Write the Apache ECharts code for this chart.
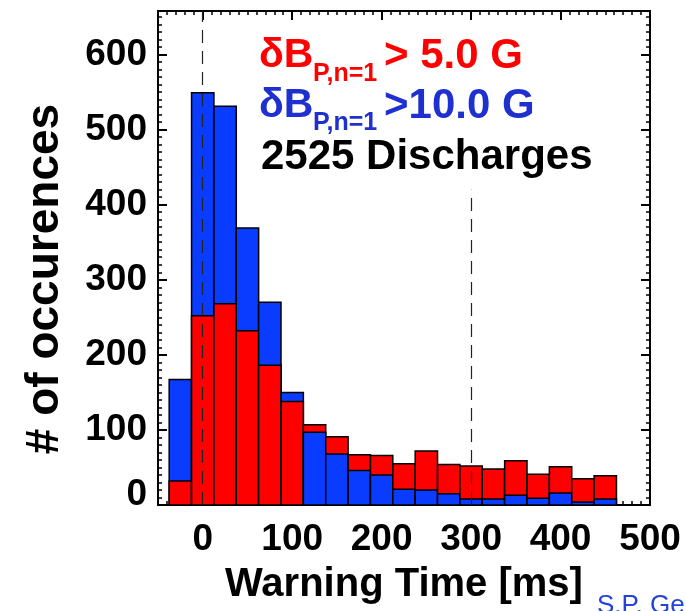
<!DOCTYPE html>
<html>
<head>
<meta charset="utf-8">
<script src="https://cdn.jsdelivr.net/npm/echarts@6/dist/echarts.min.js"></script>
<style>
  html, body { margin: 0; padding: 0; background: #fff; }
  #chart { width: 686px; height: 611px; }
</style>
</head>
<body>
<div id="chart"></div>
<script>
// ---- data ----
const BIN_CENTERS = [-25, 0, 25, 50, 75, 100, 125, 150, 175, 200, 225, 250, 275, 300, 325, 350, 375, 400, 425, 450];
const BIN_WIDTH = 25;
const RED_COUNTS  = [32, 252, 268, 232, 186, 138, 107, 91, 67, 66, 55, 72, 54, 52, 48, 59, 41, 51, 35, 39];   // dB > 5.0 G
const BLUE_COUNTS = [167, 549, 531, 369, 270, 150, 97, 68, 46, 40, 21, 20, 15, 8, 8, 13, 9, 16, 4, 8];        // dB > 10.0 G
const X_TICK_LABELS = [0, 100, 200, 300, 400, 500];
const Y_TICK_LABELS = [0, 100, 200, 300, 400, 500, 600];
const X_RANGE = [-50, 500];
const Y_RANGE = [0, 658];
const DASH_LINES = [[0, 658], [300, 420]]; // [x, top value]

const RED = '#ff0000';
const BLUE = '#0a3cff';
const TEXT_BLUE = '#1f30d0';
const FONT = 'Liberation Sans, Arial, Helvetica, sans-serif';

const chart = echarts.init(document.getElementById('chart'), null, { renderer: 'canvas' });

const tableData = BIN_CENTERS.map((c, i) => [c, RED_COUNTS[i], BLUE_COUNTS[i]]);

const frameLine = { show: true, onZero: false, lineStyle: { color: '#000', width: 2 } };
const labelStyle = { fontFamily: FONT, fontWeight: 'bold', fontSize: 37, color: '#000' };

function xAxisDef(position, major) {
  const ax = {
    type: 'value', gridIndex: 0, position: position,
    min: X_RANGE[0], max: X_RANGE[1],
    splitLine: { show: false },
    axisLine: frameLine
  };
  if (major) {
    ax.axisTick = { show: true, inside: true, length: 9, customValues: X_TICK_LABELS, lineStyle: { color: '#000', width: 2 } };
    ax.axisLabel = position === 'bottom'
      ? Object.assign({ show: true, margin: 16, customValues: X_TICK_LABELS }, labelStyle)
      : { show: false };
  } else {
    ax.interval = 10;
    ax.axisTick = { show: true, inside: true, length: 4, lineStyle: { color: '#000', width: 1.5 } };
    ax.axisLabel = { show: false };
  }
  return ax;
}

function yAxisDef(position, major) {
  const ax = {
    type: 'value', gridIndex: 0, position: position,
    min: Y_RANGE[0], max: Y_RANGE[1],
    splitLine: { show: false },
    axisLine: frameLine
  };
  if (major) {
    ax.axisTick = { show: true, inside: true, length: 9, customValues: Y_TICK_LABELS, lineStyle: { color: '#000', width: 2 } };
    ax.axisLabel = position === 'left'
      ? Object.assign({
          show: true, margin: 11, customValues: Y_TICK_LABELS,
          formatter: v => (v === 0 ? '{z|0}' : String(v)),
          rich: { z: { fontFamily: FONT, fontWeight: 'bold', fontSize: 37, color: '#000', padding: [0, 0, 20, 0] } }
        }, labelStyle)
      : { show: false };
  } else {
    ax.interval = 10;
    ax.axisTick = { show: true, inside: true, length: 4, lineStyle: { color: '#000', width: 1.5 } };
    ax.axisLabel = { show: false };
  }
  return ax;
}

const option = {
  animation: false,
  backgroundColor: '#fff',
  grid: { left: 158, right: 36, top: 11, bottom: 106, containLabel: false },
  xAxis: [
    xAxisDef('bottom', true),
    xAxisDef('bottom', false),
    xAxisDef('top', true),
    xAxisDef('top', false)
  ],
  yAxis: [
    yAxisDef('left', true),
    yAxisDef('left', false),
    yAxisDef('right', true),
    yAxisDef('right', false)
  ],
  series: [{
    type: 'custom',
    xAxisIndex: 0,
    yAxisIndex: 0,
    z: 2,
    data: tableData,
    encode: { x: 0, y: [1, 2] },
    renderItem: function (params, api) {
      const c = api.value(0);
      const bars = [[api.value(2), BLUE], [api.value(1), RED]].sort((a, b) => b[0] - a[0]);
      const children = bars.map(([v, col]) => {
        const p0 = api.coord([c - BIN_WIDTH / 2, v]);
        const p1 = api.coord([c + BIN_WIDTH / 2, 0]);
        return {
          type: 'rect',
          shape: { x: p0[0], y: p0[1], width: p1[0] - p0[0], height: p1[1] - p0[1] },
          style: { fill: col, stroke: '#000', lineWidth: 1.5 }
        };
      });
      return { type: 'group', children: children };
    },
    markLine: {
      silent: true,
      symbol: ['none', 'none'],
      label: { show: false },
      lineStyle: { color: '#222', width: 1.2, type: [13, 8] },
      data: DASH_LINES.map(([x, top]) => [{ coord: [x, 0] }, { coord: [x, top] }])
    }
  }],
  graphic: [
    // y-axis title
    { type: 'text', x: 45, y: 279, rotation: Math.PI / 2,
      style: { text: '# of occurences', fontFamily: FONT, fontWeight: 'bold', fontSize: 46, fill: '#000', align: 'center', verticalAlign: 'middle' } },
    // x-axis title
    { type: 'text', x: 404, y: 585,
      style: { text: 'Warning Time [ms]', fontFamily: FONT, fontWeight: 'bold', fontSize: 40, fill: '#000', align: 'center', verticalAlign: 'middle' } },
    // legend line 1 (red)
    { type: 'text', x: 259, y: 56, style: { text: 'δB', fontFamily: FONT, fontWeight: 'bold', fontSize: 41, fill: RED, align: 'left', verticalAlign: 'middle' } },
    { type: 'text', x: 313, y: 74, style: { text: 'P,n=1', fontFamily: FONT, fontWeight: 'bold', fontSize: 25, fill: RED, align: 'left', verticalAlign: 'middle' } },
    { type: 'text', x: 384, y: 56, style: { text: '> 5.0 G', fontFamily: FONT, fontWeight: 'bold', fontSize: 42, fill: RED, align: 'left', verticalAlign: 'middle' } },
    // legend line 2 (blue)
    { type: 'text', x: 259, y: 106, style: { text: 'δB', fontFamily: FONT, fontWeight: 'bold', fontSize: 41, fill: TEXT_BLUE, align: 'left', verticalAlign: 'middle' } },
    { type: 'text', x: 313, y: 123, style: { text: 'P,n=1', fontFamily: FONT, fontWeight: 'bold', fontSize: 25, fill: TEXT_BLUE, align: 'left', verticalAlign: 'middle' } },
    { type: 'text', x: 384, y: 106, style: { text: '>10.0 G', fontFamily: FONT, fontWeight: 'bold', fontSize: 42, fill: TEXT_BLUE, align: 'left', verticalAlign: 'middle' } },
    // legend line 3
    { type: 'text', x: 261, y: 157, style: { text: '2525 Discharges', fontFamily: FONT, fontWeight: 'bold', fontSize: 42, fill: '#000', align: 'left', verticalAlign: 'middle' } },
    // credit (cut off at the right edge)
    { type: 'text', x: 597, y: 593, style: { text: 'S.P. Gerhardt', fontFamily: FONT, fontSize: 26, fill: '#2244dd', align: 'left', verticalAlign: 'top' } }
  ]
};

chart.setOption(option);
</script>
</body>
</html>
